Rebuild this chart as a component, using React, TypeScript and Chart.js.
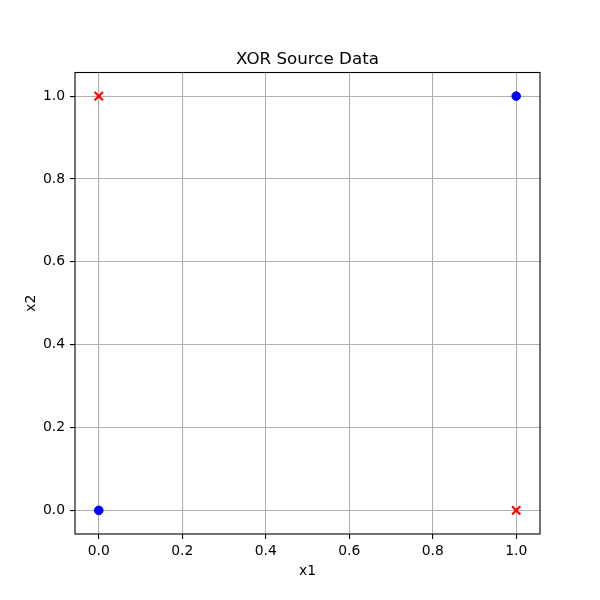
import React, { useEffect, useRef } from "react";
import { Chart, registerables } from "chart.js";

Chart.register(...registerables);

const titleText = "XOR Source Data";
const xLabel = "x1";
const yLabel = "x2";

// class 0 (blue circles)
const class0X = [0, 1];
const class0Y = [0, 1];
// class 1 (red crosses)
const class1X = [0, 1];
const class1Y = [1, 0];

const axisMin = -0.057;
const axisMax = 1.057;
const tickStep = 0.2;

const FONT = "'DejaVu Sans', sans-serif";

const textPlugin = {
  id: "mplText",
  afterDraw(chart: any) {
    const { ctx, chartArea } = chart;
    const { left, right, top, bottom } = chartArea;
    ctx.save();
    // axes frame
    ctx.strokeStyle = "#000";
    ctx.lineWidth = 1.1;
    ctx.strokeRect(left, top, right - left, bottom - top);
    ctx.fillStyle = "#000";
    // title
    ctx.font = `16.7px ${FONT}`;
    ctx.textAlign = "center";
    ctx.textBaseline = "alphabetic";
    ctx.fillText(titleText, (left + right) / 2, 64);
    // x label
    ctx.font = `13.9px ${FONT}`;
    ctx.fillText(xLabel, (left + right) / 2, 575);
    // y label
    ctx.translate(35, (top + bottom) / 2);
    ctx.rotate(-Math.PI / 2);
    ctx.fillText(yLabel, 0, 0);
    ctx.restore();
  },
};

export default function App() {
  const ref = useRef<HTMLCanvasElement | null>(null);
  useEffect(() => {
    if (!ref.current) return;
    const tickFont = { family: FONT, size: 13.9 };
    const chart = new Chart(ref.current, {
      type: "scatter",
      data: {
        datasets: [
          {
            label: "class 0",
            data: class0X.map((x, i) => ({ x, y: class0Y[i] })),
            pointStyle: "circle",
            pointRadius: 4.3,
            borderWidth: 1,
            backgroundColor: "#0000ff",
            borderColor: "#0000ff",
          },
          {
            label: "class 1",
            data: class1X.map((x, i) => ({ x, y: class1Y[i] })),
            pointStyle: "crossRot",
            pointRadius: 5.8,
            borderWidth: 2.2,
            backgroundColor: "#ff0000",
            borderColor: "#ff0000",
          },
        ],
      },
      options: {
        responsive: false,
        animation: false,
        layout: { padding: { left: 0, right: 60, top: 72.5, bottom: 0 } },
        plugins: {
          legend: { display: false },
          title: { display: false },
          tooltip: { enabled: false },
        },
        scales: {
          x: {
            type: "linear",
            min: axisMin,
            max: axisMax,
            afterFit: (s: any) => {
              s.height = 66;
            },
            border: { display: false },
            grid: {
              color: "#b0b0b0",
              lineWidth: 1.1,
              tickColor: "#000",
              tickLength: 5,
              tickWidth: 1.1,
            },
            ticks: {
              stepSize: tickStep,
              includeBounds: false,
              color: "#000",
              font: tickFont,
              padding: 4,
              maxRotation: 0,
              callback: (v: any) => Number(v).toFixed(1),
            },
          },
          y: {
            type: "linear",
            min: axisMin,
            max: axisMax,
            afterFit: (s: any) => {
              s.width = 75;
            },
            border: { display: false },
            grid: {
              color: "#b0b0b0",
              lineWidth: 1.1,
              tickColor: "#000",
              tickLength: 5,
              tickWidth: 1.1,
            },
            ticks: {
              stepSize: tickStep,
              includeBounds: false,
              color: "#000",
              font: tickFont,
              padding: 5,
              callback: (v: any) => Number(v).toFixed(1),
            },
          },
        },
      },
      plugins: [textPlugin],
    });
    return () => chart.destroy();
  }, []);
  return (
    <div style={{ position: "absolute", left: 0, top: 0, width: 600, height: 600, background: "#fff" }}>
      <canvas ref={ref} width={600} height={600} style={{ width: 600, height: 600, display: "block" }} />
    </div>
  );
}
